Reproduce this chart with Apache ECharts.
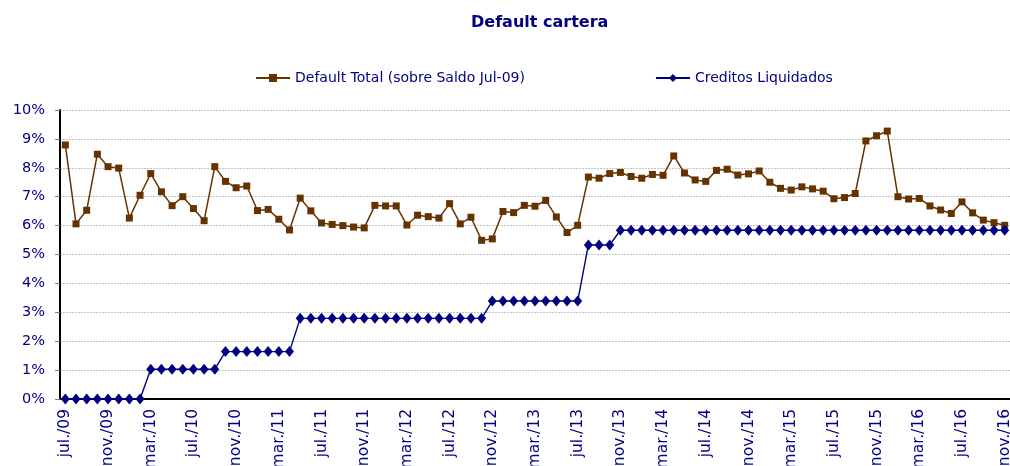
<!DOCTYPE html>
<html>
<head>
<meta charset="utf-8">
<script src="https://cdn.jsdelivr.net/npm/echarts@6/dist/echarts.min.js"></script>
<style>
  html, body { margin: 0; padding: 0; background: #fff; }
  #chart { width: 1010px; height: 466px; }
</style>
</head>
<body>
<div id="chart"></div>
<script>
// meses jul/09 .. nov/16
var meses = ['ene.', 'feb.', 'mar.', 'abr.', 'may.', 'jun.', 'jul.', 'ago.', 'sep.', 'oct.', 'nov.', 'dic.'];
var categorias = [];
for (var k = 0; k < 89; k++) {
  var m = (6 + k) % 12, a = 9 + Math.floor((6 + k) / 12);
  categorias.push(meses[m] + '/' + (a < 10 ? '0' + a : a));
}

var defaultTotal = [
  8.79, 6.06, 6.53, 8.47, 8.04, 7.99, 6.26, 7.05, 7.80, 7.17,
  6.69, 7.00, 6.59, 6.17, 8.04, 7.53, 7.31, 7.37, 6.52, 6.56,
  6.22, 5.85, 6.95, 6.51, 6.09, 6.04, 6.00, 5.95, 5.92, 6.70,
  6.68, 6.68, 6.02, 6.36, 6.31, 6.26, 6.76, 6.06, 6.29, 5.49,
  5.54, 6.49, 6.45, 6.70, 6.67, 6.87, 6.30, 5.76, 6.01, 7.68,
  7.64, 7.80, 7.84, 7.70, 7.64, 7.77, 7.74, 8.41, 7.82, 7.58,
  7.53, 7.91, 7.95, 7.75, 7.79, 7.89, 7.50, 7.29, 7.23, 7.34,
  7.27, 7.19, 6.93, 6.97, 7.11, 8.93, 9.11, 9.27, 7.00, 6.92,
  6.94, 6.68, 6.54, 6.42, 6.82, 6.44, 6.19, 6.10, 6.01
];

var creditosLiquidados = [
  0, 0, 0, 0, 0, 0, 0, 0,
  1.03, 1.03, 1.03, 1.03, 1.03, 1.03, 1.03,
  1.64, 1.64, 1.64, 1.64, 1.64, 1.64, 1.64,
  2.79, 2.79, 2.79, 2.79, 2.79, 2.79, 2.79, 2.79, 2.79, 2.79,
  2.79, 2.79, 2.79, 2.79, 2.79, 2.79, 2.79, 2.79,
  3.39, 3.39, 3.39, 3.39, 3.39, 3.39, 3.39, 3.39, 3.39,
  5.33, 5.33, 5.33,
  5.84, 5.84, 5.84, 5.84, 5.84, 5.84, 5.84, 5.84, 5.84, 5.84,
  5.84, 5.84, 5.84, 5.84, 5.84, 5.84, 5.84, 5.84, 5.84, 5.84,
  5.84, 5.84, 5.84, 5.84, 5.84, 5.84, 5.84, 5.84, 5.84, 5.84,
  5.84, 5.84, 5.84, 5.84, 5.84, 5.84, 5.84
];

var navy = '#000080';
var marron = '#663300';
var fuente = 'DejaVu Sans, Verdana, sans-serif';

var option = {
  animation: false,
  title: {
    text: 'Default cartera',
    left: 466,
    top: 10,
    textStyle: { color: navy, fontFamily: fuente, fontSize: 16, fontWeight: 'bold' }
  },
  legend: {
    left: 250,
    top: 66,
    itemWidth: 34,
    itemHeight: 10,
    itemGap: 130,
    textStyle: { color: navy, fontFamily: fuente, fontSize: 14 },
    data: ['Default Total (sobre Saldo Jul-09)', 'Creditos Liquidados']
  },
  grid: { left: 60, right: 0, top: 110, bottom: 67, containLabel: false, outerBoundsMode: 'none' },
  xAxis: {
    type: 'category',
    data: categorias,
    boundaryGap: true,
    axisLine: { lineStyle: { color: '#000', width: 2 } },
    axisTick: { interval: 3, length: 5, lineStyle: { color: '#000' } },
    axisLabel: {
      interval: 3,
      rotate: 90,
      margin: 10,
      color: navy,
      fontFamily: fuente,
      fontSize: 15.5
    },
    splitLine: { show: false }
  },
  yAxis: {
    type: 'value',
    min: 0,
    max: 10,
    interval: 1,
    axisLine: { show: true, lineStyle: { color: '#000', width: 2 } },
    axisTick: { show: true, length: 5, lineStyle: { color: '#808080' } },
    axisLabel: {
      formatter: '{value}%',
      margin: 15,
      color: navy,
      fontFamily: fuente,
      fontSize: 14.5
    },
    splitLine: { lineStyle: { color: '#c4c4c4', type: [2, 1], width: 1 } }
  },
  series: [
    {
      name: 'Default Total (sobre Saldo Jul-09)',
      type: 'line',
      data: defaultTotal,
      showAllSymbol: true,
      symbol: 'rect',
      symbolSize: 7,
      itemStyle: { color: marron },
      lineStyle: { color: marron, width: 1.5 }
    },
    {
      name: 'Creditos Liquidados',
      type: 'line',
      data: creditosLiquidados,
      showAllSymbol: true,
      symbol: 'diamond',
      symbolSize: [9, 11],
      itemStyle: { color: navy },
      lineStyle: { color: navy, width: 1.4 }
    }
  ]
};

var chart = echarts.init(document.getElementById('chart'));
chart.setOption(option);
</script>
</body>
</html>
